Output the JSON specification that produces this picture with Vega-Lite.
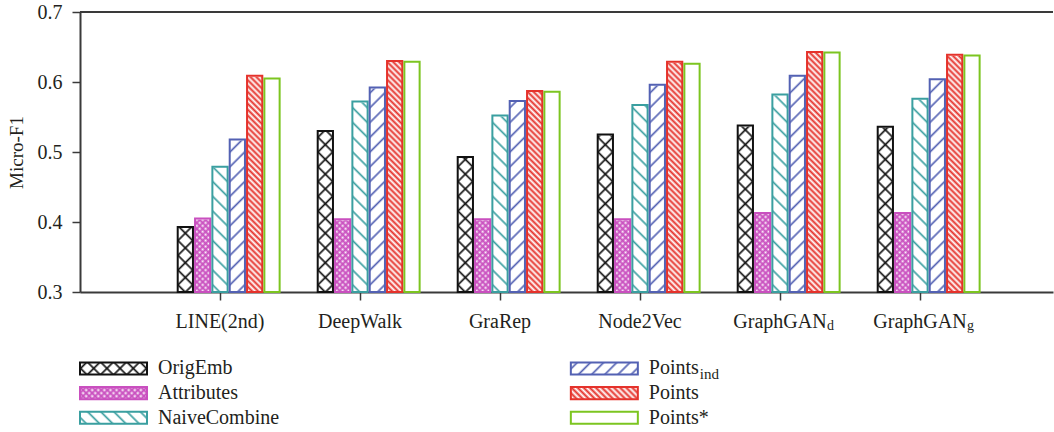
{
  "$schema": "https://vega.github.io/schema/vega-lite/v6.json",
  "padding": {"left": 7, "top": 2, "right": 0, "bottom": 0},
  "background": "white",
  "config": {
    "font": "Liberation Serif",
    "text": {"font": "Liberation Serif"},
    "view": {"stroke": null},
    "axis": {"domainColor": "#3a3a3a", "domainWidth": 2, "tickColor": "#3a3a3a", "tickWidth": 1.5, "tickSize": 8, "labelFont": "Liberation Serif", "labelFontSize": 20, "labelColor": "#231f20", "titleFont": "Liberation Serif", "titleFontSize": 19, "titleFontWeight": "normal", "titleColor": "#231f20", "grid": false},
    "axisX": {"labelPadding": 11, "labelAngle": 0},
    "axisY": {"labelPadding": 10, "titlePadding": 11}
  },
  "spacing": 64,
  "bounds": "flush",
  "vconcat": [
    {
      "width": 973,
      "height": 280,
      "data": {"values": [
        {"method": "LINE(2nd)", "series": "OrigEmb", "value": 0.393},
        {"method": "LINE(2nd)", "series": "Attributes", "value": 0.405},
        {"method": "LINE(2nd)", "series": "NaiveCombine", "value": 0.479},
        {"method": "LINE(2nd)", "series": "Points_ind", "value": 0.518},
        {"method": "LINE(2nd)", "series": "Points", "value": 0.609},
        {"method": "LINE(2nd)", "series": "Points*", "value": 0.605},
        {"method": "DeepWalk", "series": "OrigEmb", "value": 0.530},
        {"method": "DeepWalk", "series": "Attributes", "value": 0.404},
        {"method": "DeepWalk", "series": "NaiveCombine", "value": 0.572},
        {"method": "DeepWalk", "series": "Points_ind", "value": 0.592},
        {"method": "DeepWalk", "series": "Points", "value": 0.630},
        {"method": "DeepWalk", "series": "Points*", "value": 0.629},
        {"method": "GraRep", "series": "OrigEmb", "value": 0.493},
        {"method": "GraRep", "series": "Attributes", "value": 0.404},
        {"method": "GraRep", "series": "NaiveCombine", "value": 0.552},
        {"method": "GraRep", "series": "Points_ind", "value": 0.573},
        {"method": "GraRep", "series": "Points", "value": 0.587},
        {"method": "GraRep", "series": "Points*", "value": 0.586},
        {"method": "Node2Vec", "series": "OrigEmb", "value": 0.525},
        {"method": "Node2Vec", "series": "Attributes", "value": 0.404},
        {"method": "Node2Vec", "series": "NaiveCombine", "value": 0.567},
        {"method": "Node2Vec", "series": "Points_ind", "value": 0.596},
        {"method": "Node2Vec", "series": "Points", "value": 0.629},
        {"method": "Node2Vec", "series": "Points*", "value": 0.626},
        {"method": "GraphGAN_d", "series": "OrigEmb", "value": 0.538},
        {"method": "GraphGAN_d", "series": "Attributes", "value": 0.413},
        {"method": "GraphGAN_d", "series": "NaiveCombine", "value": 0.582},
        {"method": "GraphGAN_d", "series": "Points_ind", "value": 0.609},
        {"method": "GraphGAN_d", "series": "Points", "value": 0.643},
        {"method": "GraphGAN_d", "series": "Points*", "value": 0.642},
        {"method": "GraphGAN_g", "series": "OrigEmb", "value": 0.536},
        {"method": "GraphGAN_g", "series": "Attributes", "value": 0.413},
        {"method": "GraphGAN_g", "series": "NaiveCombine", "value": 0.576},
        {"method": "GraphGAN_g", "series": "Points_ind", "value": 0.604},
        {"method": "GraphGAN_g", "series": "Points", "value": 0.639},
        {"method": "GraphGAN_g", "series": "Points*", "value": 0.638}
      ]},
      "layer": [
        {
          "encoding": {
            "x": {"field": "method", "type": "nominal", "title": null,
                  "scale": {"domain": ["LINE(2nd)", "DeepWalk", "GraRep", "Node2Vec", "GraphGAN_d", "GraphGAN_g"], "paddingInner": 0.13333, "paddingOuter": 0.5417, "align": 0.5231, "round": false},
                  "axis": {"labelExpr": "split(datum.label, '_')[0]"}},
            "xOffset": {"field": "series", "type": "nominal",
                        "scale": {"domain": ["gap", "OrigEmb", "Attributes", "NaiveCombine", "Points_ind", "Points", "Points*"], "paddingInner": 0.12, "paddingOuter": 0.06, "round": false}}
          },
          "layer": [
            {
              "transform": [{"filter": "datum.series === 'OrigEmb'"}],
              "mark": {"type": "bar", "fill": {"gradient": "linear", "x1": 0, "y1": 0, "x2": 0.0573, "y2": 1.0513, "stops": [
                {"offset":0.017,"color":"#11111100"},{"offset":0.025,"color":"#111111"},{"offset":0.033,"color":"#11111100"},
                {"offset":0.067,"color":"#11111100"},{"offset":0.075,"color":"#111111"},{"offset":0.083,"color":"#11111100"},
                {"offset":0.117,"color":"#11111100"},{"offset":0.125,"color":"#111111"},{"offset":0.133,"color":"#11111100"},
                {"offset":0.167,"color":"#11111100"},{"offset":0.175,"color":"#111111"},{"offset":0.183,"color":"#11111100"},
                {"offset":0.217,"color":"#11111100"},{"offset":0.225,"color":"#111111"},{"offset":0.233,"color":"#11111100"},
                {"offset":0.267,"color":"#11111100"},{"offset":0.275,"color":"#111111"},{"offset":0.283,"color":"#11111100"},
                {"offset":0.317,"color":"#11111100"},{"offset":0.325,"color":"#111111"},{"offset":0.333,"color":"#11111100"},
                {"offset":0.367,"color":"#11111100"},{"offset":0.375,"color":"#111111"},{"offset":0.383,"color":"#11111100"},
                {"offset":0.417,"color":"#11111100"},{"offset":0.425,"color":"#111111"},{"offset":0.433,"color":"#11111100"},
                {"offset":0.467,"color":"#11111100"},{"offset":0.475,"color":"#111111"},{"offset":0.483,"color":"#11111100"},
                {"offset":0.517,"color":"#11111100"},{"offset":0.525,"color":"#111111"},{"offset":0.533,"color":"#11111100"},
                {"offset":0.567,"color":"#11111100"},{"offset":0.575,"color":"#111111"},{"offset":0.583,"color":"#11111100"},
                {"offset":0.617,"color":"#11111100"},{"offset":0.625,"color":"#111111"},{"offset":0.633,"color":"#11111100"},
                {"offset":0.667,"color":"#11111100"},{"offset":0.675,"color":"#111111"},{"offset":0.683,"color":"#11111100"},
                {"offset":0.717,"color":"#11111100"},{"offset":0.725,"color":"#111111"},{"offset":0.733,"color":"#11111100"},
                {"offset":0.767,"color":"#11111100"},{"offset":0.775,"color":"#111111"},{"offset":0.783,"color":"#11111100"},
                {"offset":0.817,"color":"#11111100"},{"offset":0.825,"color":"#111111"},{"offset":0.833,"color":"#11111100"},
                {"offset":0.867,"color":"#11111100"},{"offset":0.875,"color":"#111111"},{"offset":0.883,"color":"#11111100"},
                {"offset":0.917,"color":"#11111100"},{"offset":0.925,"color":"#111111"},{"offset":0.933,"color":"#11111100"},
                {"offset":0.967,"color":"#11111100"},{"offset":0.975,"color":"#111111"},{"offset":0.983,"color":"#11111100"}
              ]}},
              "encoding": {"y": {"datum": 0.3, "type": "quantitative", "title": "Micro-F1", "scale": {"domain": [0.3, 0.7], "nice": false, "zero": false}}, "y2": {"datum": 0.7}}
            },
            {
              "transform": [{"filter": "datum.series === 'OrigEmb'"}],
              "mark": {"type": "bar", "fill": {"gradient": "linear", "x1": 0, "y1": 1, "x2": 0.0573, "y2": -0.0513, "stops": [
                {"offset":0.017,"color":"#11111100"},{"offset":0.025,"color":"#111111"},{"offset":0.033,"color":"#11111100"},
                {"offset":0.067,"color":"#11111100"},{"offset":0.075,"color":"#111111"},{"offset":0.083,"color":"#11111100"},
                {"offset":0.117,"color":"#11111100"},{"offset":0.125,"color":"#111111"},{"offset":0.133,"color":"#11111100"},
                {"offset":0.167,"color":"#11111100"},{"offset":0.175,"color":"#111111"},{"offset":0.183,"color":"#11111100"},
                {"offset":0.217,"color":"#11111100"},{"offset":0.225,"color":"#111111"},{"offset":0.233,"color":"#11111100"},
                {"offset":0.267,"color":"#11111100"},{"offset":0.275,"color":"#111111"},{"offset":0.283,"color":"#11111100"},
                {"offset":0.317,"color":"#11111100"},{"offset":0.325,"color":"#111111"},{"offset":0.333,"color":"#11111100"},
                {"offset":0.367,"color":"#11111100"},{"offset":0.375,"color":"#111111"},{"offset":0.383,"color":"#11111100"},
                {"offset":0.417,"color":"#11111100"},{"offset":0.425,"color":"#111111"},{"offset":0.433,"color":"#11111100"},
                {"offset":0.467,"color":"#11111100"},{"offset":0.475,"color":"#111111"},{"offset":0.483,"color":"#11111100"},
                {"offset":0.517,"color":"#11111100"},{"offset":0.525,"color":"#111111"},{"offset":0.533,"color":"#11111100"},
                {"offset":0.567,"color":"#11111100"},{"offset":0.575,"color":"#111111"},{"offset":0.583,"color":"#11111100"},
                {"offset":0.617,"color":"#11111100"},{"offset":0.625,"color":"#111111"},{"offset":0.633,"color":"#11111100"},
                {"offset":0.667,"color":"#11111100"},{"offset":0.675,"color":"#111111"},{"offset":0.683,"color":"#11111100"},
                {"offset":0.717,"color":"#11111100"},{"offset":0.725,"color":"#111111"},{"offset":0.733,"color":"#11111100"},
                {"offset":0.767,"color":"#11111100"},{"offset":0.775,"color":"#111111"},{"offset":0.783,"color":"#11111100"},
                {"offset":0.817,"color":"#11111100"},{"offset":0.825,"color":"#111111"},{"offset":0.833,"color":"#11111100"},
                {"offset":0.867,"color":"#11111100"},{"offset":0.875,"color":"#111111"},{"offset":0.883,"color":"#11111100"},
                {"offset":0.917,"color":"#11111100"},{"offset":0.925,"color":"#111111"},{"offset":0.933,"color":"#11111100"},
                {"offset":0.967,"color":"#11111100"},{"offset":0.975,"color":"#111111"},{"offset":0.983,"color":"#11111100"}
              ]}},
              "encoding": {"y": {"datum": 0.3, "type": "quantitative", "title": "Micro-F1", "scale": {"domain": [0.3, 0.7], "nice": false, "zero": false}}, "y2": {"datum": 0.7}}
            },
            {
              "transform": [{"filter": "datum.series === 'Attributes'"}],
              "mark": {"type": "bar", "fill": {"gradient": "linear", "x1": 0, "y1": 0, "x2": 0.0573, "y2": 1.0513, "stops": [
                {"offset":0,"color":"#c94fbf"},{"offset":0.01,"color":"#c94fbf00"},{"offset":0.02,"color":"#c94fbf"},{"offset":0.03,"color":"#c94fbf00"},{"offset":0.04,"color":"#c94fbf"},{"offset":0.05,"color":"#c94fbf00"},{"offset":0.06,"color":"#c94fbf"},{"offset":0.07,"color":"#c94fbf00"},{"offset":0.08,"color":"#c94fbf"},{"offset":0.09,"color":"#c94fbf00"},
                {"offset":0.1,"color":"#c94fbf"},{"offset":0.11,"color":"#c94fbf00"},{"offset":0.12,"color":"#c94fbf"},{"offset":0.13,"color":"#c94fbf00"},{"offset":0.14,"color":"#c94fbf"},{"offset":0.15,"color":"#c94fbf00"},{"offset":0.16,"color":"#c94fbf"},{"offset":0.17,"color":"#c94fbf00"},{"offset":0.18,"color":"#c94fbf"},{"offset":0.19,"color":"#c94fbf00"},
                {"offset":0.2,"color":"#c94fbf"},{"offset":0.21,"color":"#c94fbf00"},{"offset":0.22,"color":"#c94fbf"},{"offset":0.23,"color":"#c94fbf00"},{"offset":0.24,"color":"#c94fbf"},{"offset":0.25,"color":"#c94fbf00"},{"offset":0.26,"color":"#c94fbf"},{"offset":0.27,"color":"#c94fbf00"},{"offset":0.28,"color":"#c94fbf"},{"offset":0.29,"color":"#c94fbf00"},
                {"offset":0.3,"color":"#c94fbf"},{"offset":0.31,"color":"#c94fbf00"},{"offset":0.32,"color":"#c94fbf"},{"offset":0.33,"color":"#c94fbf00"},{"offset":0.34,"color":"#c94fbf"},{"offset":0.35,"color":"#c94fbf00"},{"offset":0.36,"color":"#c94fbf"},{"offset":0.37,"color":"#c94fbf00"},{"offset":0.38,"color":"#c94fbf"},{"offset":0.39,"color":"#c94fbf00"},
                {"offset":0.4,"color":"#c94fbf"},{"offset":0.41,"color":"#c94fbf00"},{"offset":0.42,"color":"#c94fbf"},{"offset":0.43,"color":"#c94fbf00"},{"offset":0.44,"color":"#c94fbf"},{"offset":0.45,"color":"#c94fbf00"},{"offset":0.46,"color":"#c94fbf"},{"offset":0.47,"color":"#c94fbf00"},{"offset":0.48,"color":"#c94fbf"},{"offset":0.49,"color":"#c94fbf00"},
                {"offset":0.5,"color":"#c94fbf"},{"offset":0.51,"color":"#c94fbf00"},{"offset":0.52,"color":"#c94fbf"},{"offset":0.53,"color":"#c94fbf00"},{"offset":0.54,"color":"#c94fbf"},{"offset":0.55,"color":"#c94fbf00"},{"offset":0.56,"color":"#c94fbf"},{"offset":0.57,"color":"#c94fbf00"},{"offset":0.58,"color":"#c94fbf"},{"offset":0.59,"color":"#c94fbf00"},
                {"offset":0.6,"color":"#c94fbf"},{"offset":0.61,"color":"#c94fbf00"},{"offset":0.62,"color":"#c94fbf"},{"offset":0.63,"color":"#c94fbf00"},{"offset":0.64,"color":"#c94fbf"},{"offset":0.65,"color":"#c94fbf00"},{"offset":0.66,"color":"#c94fbf"},{"offset":0.67,"color":"#c94fbf00"},{"offset":0.68,"color":"#c94fbf"},{"offset":0.69,"color":"#c94fbf00"},
                {"offset":0.7,"color":"#c94fbf"},{"offset":0.71,"color":"#c94fbf00"},{"offset":0.72,"color":"#c94fbf"},{"offset":0.73,"color":"#c94fbf00"},{"offset":0.74,"color":"#c94fbf"},{"offset":0.75,"color":"#c94fbf00"},{"offset":0.76,"color":"#c94fbf"},{"offset":0.77,"color":"#c94fbf00"},{"offset":0.78,"color":"#c94fbf"},{"offset":0.79,"color":"#c94fbf00"},
                {"offset":0.8,"color":"#c94fbf"},{"offset":0.81,"color":"#c94fbf00"},{"offset":0.82,"color":"#c94fbf"},{"offset":0.83,"color":"#c94fbf00"},{"offset":0.84,"color":"#c94fbf"},{"offset":0.85,"color":"#c94fbf00"},{"offset":0.86,"color":"#c94fbf"},{"offset":0.87,"color":"#c94fbf00"},{"offset":0.88,"color":"#c94fbf"},{"offset":0.89,"color":"#c94fbf00"},
                {"offset":0.9,"color":"#c94fbf"},{"offset":0.91,"color":"#c94fbf00"},{"offset":0.92,"color":"#c94fbf"},{"offset":0.93,"color":"#c94fbf00"},{"offset":0.94,"color":"#c94fbf"},{"offset":0.95,"color":"#c94fbf00"},{"offset":0.96,"color":"#c94fbf"},{"offset":0.97,"color":"#c94fbf00"},{"offset":0.98,"color":"#c94fbf"},{"offset":0.99,"color":"#c94fbf00"},
                {"offset":1,"color":"#c94fbf"}
              ]}},
              "encoding": {"y": {"datum": 0.3, "type": "quantitative", "title": "Micro-F1", "scale": {"domain": [0.3, 0.7], "nice": false, "zero": false}}, "y2": {"datum": 0.7}}
            },
            {
              "transform": [{"filter": "datum.series === 'Attributes'"}],
              "mark": {"type": "bar", "fill": {"gradient": "linear", "x1": 0, "y1": 1, "x2": 0.0573, "y2": -0.0513, "stops": [
                {"offset":0,"color":"#c94fbf"},{"offset":0.01,"color":"#c94fbf00"},{"offset":0.02,"color":"#c94fbf"},{"offset":0.03,"color":"#c94fbf00"},{"offset":0.04,"color":"#c94fbf"},{"offset":0.05,"color":"#c94fbf00"},{"offset":0.06,"color":"#c94fbf"},{"offset":0.07,"color":"#c94fbf00"},{"offset":0.08,"color":"#c94fbf"},{"offset":0.09,"color":"#c94fbf00"},
                {"offset":0.1,"color":"#c94fbf"},{"offset":0.11,"color":"#c94fbf00"},{"offset":0.12,"color":"#c94fbf"},{"offset":0.13,"color":"#c94fbf00"},{"offset":0.14,"color":"#c94fbf"},{"offset":0.15,"color":"#c94fbf00"},{"offset":0.16,"color":"#c94fbf"},{"offset":0.17,"color":"#c94fbf00"},{"offset":0.18,"color":"#c94fbf"},{"offset":0.19,"color":"#c94fbf00"},
                {"offset":0.2,"color":"#c94fbf"},{"offset":0.21,"color":"#c94fbf00"},{"offset":0.22,"color":"#c94fbf"},{"offset":0.23,"color":"#c94fbf00"},{"offset":0.24,"color":"#c94fbf"},{"offset":0.25,"color":"#c94fbf00"},{"offset":0.26,"color":"#c94fbf"},{"offset":0.27,"color":"#c94fbf00"},{"offset":0.28,"color":"#c94fbf"},{"offset":0.29,"color":"#c94fbf00"},
                {"offset":0.3,"color":"#c94fbf"},{"offset":0.31,"color":"#c94fbf00"},{"offset":0.32,"color":"#c94fbf"},{"offset":0.33,"color":"#c94fbf00"},{"offset":0.34,"color":"#c94fbf"},{"offset":0.35,"color":"#c94fbf00"},{"offset":0.36,"color":"#c94fbf"},{"offset":0.37,"color":"#c94fbf00"},{"offset":0.38,"color":"#c94fbf"},{"offset":0.39,"color":"#c94fbf00"},
                {"offset":0.4,"color":"#c94fbf"},{"offset":0.41,"color":"#c94fbf00"},{"offset":0.42,"color":"#c94fbf"},{"offset":0.43,"color":"#c94fbf00"},{"offset":0.44,"color":"#c94fbf"},{"offset":0.45,"color":"#c94fbf00"},{"offset":0.46,"color":"#c94fbf"},{"offset":0.47,"color":"#c94fbf00"},{"offset":0.48,"color":"#c94fbf"},{"offset":0.49,"color":"#c94fbf00"},
                {"offset":0.5,"color":"#c94fbf"},{"offset":0.51,"color":"#c94fbf00"},{"offset":0.52,"color":"#c94fbf"},{"offset":0.53,"color":"#c94fbf00"},{"offset":0.54,"color":"#c94fbf"},{"offset":0.55,"color":"#c94fbf00"},{"offset":0.56,"color":"#c94fbf"},{"offset":0.57,"color":"#c94fbf00"},{"offset":0.58,"color":"#c94fbf"},{"offset":0.59,"color":"#c94fbf00"},
                {"offset":0.6,"color":"#c94fbf"},{"offset":0.61,"color":"#c94fbf00"},{"offset":0.62,"color":"#c94fbf"},{"offset":0.63,"color":"#c94fbf00"},{"offset":0.64,"color":"#c94fbf"},{"offset":0.65,"color":"#c94fbf00"},{"offset":0.66,"color":"#c94fbf"},{"offset":0.67,"color":"#c94fbf00"},{"offset":0.68,"color":"#c94fbf"},{"offset":0.69,"color":"#c94fbf00"},
                {"offset":0.7,"color":"#c94fbf"},{"offset":0.71,"color":"#c94fbf00"},{"offset":0.72,"color":"#c94fbf"},{"offset":0.73,"color":"#c94fbf00"},{"offset":0.74,"color":"#c94fbf"},{"offset":0.75,"color":"#c94fbf00"},{"offset":0.76,"color":"#c94fbf"},{"offset":0.77,"color":"#c94fbf00"},{"offset":0.78,"color":"#c94fbf"},{"offset":0.79,"color":"#c94fbf00"},
                {"offset":0.8,"color":"#c94fbf"},{"offset":0.81,"color":"#c94fbf00"},{"offset":0.82,"color":"#c94fbf"},{"offset":0.83,"color":"#c94fbf00"},{"offset":0.84,"color":"#c94fbf"},{"offset":0.85,"color":"#c94fbf00"},{"offset":0.86,"color":"#c94fbf"},{"offset":0.87,"color":"#c94fbf00"},{"offset":0.88,"color":"#c94fbf"},{"offset":0.89,"color":"#c94fbf00"},
                {"offset":0.9,"color":"#c94fbf"},{"offset":0.91,"color":"#c94fbf00"},{"offset":0.92,"color":"#c94fbf"},{"offset":0.93,"color":"#c94fbf00"},{"offset":0.94,"color":"#c94fbf"},{"offset":0.95,"color":"#c94fbf00"},{"offset":0.96,"color":"#c94fbf"},{"offset":0.97,"color":"#c94fbf00"},{"offset":0.98,"color":"#c94fbf"},{"offset":0.99,"color":"#c94fbf00"},
                {"offset":1,"color":"#c94fbf"}
              ]}},
              "encoding": {"y": {"datum": 0.3, "type": "quantitative", "title": "Micro-F1", "scale": {"domain": [0.3, 0.7], "nice": false, "zero": false}}, "y2": {"datum": 0.7}}
            },
            {
              "transform": [{"filter": "datum.series === 'NaiveCombine'"}],
              "mark": {"type": "bar", "fill": {"gradient": "linear", "x1": 0, "y1": 1, "x2": 0.0573, "y2": -0.0513, "stops": [
                {"offset":0.017,"color":"#3a9fa000"},{"offset":0.025,"color":"#3a9fa0"},{"offset":0.033,"color":"#3a9fa000"},
                {"offset":0.067,"color":"#3a9fa000"},{"offset":0.075,"color":"#3a9fa0"},{"offset":0.083,"color":"#3a9fa000"},
                {"offset":0.117,"color":"#3a9fa000"},{"offset":0.125,"color":"#3a9fa0"},{"offset":0.133,"color":"#3a9fa000"},
                {"offset":0.167,"color":"#3a9fa000"},{"offset":0.175,"color":"#3a9fa0"},{"offset":0.183,"color":"#3a9fa000"},
                {"offset":0.217,"color":"#3a9fa000"},{"offset":0.225,"color":"#3a9fa0"},{"offset":0.233,"color":"#3a9fa000"},
                {"offset":0.267,"color":"#3a9fa000"},{"offset":0.275,"color":"#3a9fa0"},{"offset":0.283,"color":"#3a9fa000"},
                {"offset":0.317,"color":"#3a9fa000"},{"offset":0.325,"color":"#3a9fa0"},{"offset":0.333,"color":"#3a9fa000"},
                {"offset":0.367,"color":"#3a9fa000"},{"offset":0.375,"color":"#3a9fa0"},{"offset":0.383,"color":"#3a9fa000"},
                {"offset":0.417,"color":"#3a9fa000"},{"offset":0.425,"color":"#3a9fa0"},{"offset":0.433,"color":"#3a9fa000"},
                {"offset":0.467,"color":"#3a9fa000"},{"offset":0.475,"color":"#3a9fa0"},{"offset":0.483,"color":"#3a9fa000"},
                {"offset":0.517,"color":"#3a9fa000"},{"offset":0.525,"color":"#3a9fa0"},{"offset":0.533,"color":"#3a9fa000"},
                {"offset":0.567,"color":"#3a9fa000"},{"offset":0.575,"color":"#3a9fa0"},{"offset":0.583,"color":"#3a9fa000"},
                {"offset":0.617,"color":"#3a9fa000"},{"offset":0.625,"color":"#3a9fa0"},{"offset":0.633,"color":"#3a9fa000"},
                {"offset":0.667,"color":"#3a9fa000"},{"offset":0.675,"color":"#3a9fa0"},{"offset":0.683,"color":"#3a9fa000"},
                {"offset":0.717,"color":"#3a9fa000"},{"offset":0.725,"color":"#3a9fa0"},{"offset":0.733,"color":"#3a9fa000"},
                {"offset":0.767,"color":"#3a9fa000"},{"offset":0.775,"color":"#3a9fa0"},{"offset":0.783,"color":"#3a9fa000"},
                {"offset":0.817,"color":"#3a9fa000"},{"offset":0.825,"color":"#3a9fa0"},{"offset":0.833,"color":"#3a9fa000"},
                {"offset":0.867,"color":"#3a9fa000"},{"offset":0.875,"color":"#3a9fa0"},{"offset":0.883,"color":"#3a9fa000"},
                {"offset":0.917,"color":"#3a9fa000"},{"offset":0.925,"color":"#3a9fa0"},{"offset":0.933,"color":"#3a9fa000"},
                {"offset":0.967,"color":"#3a9fa000"},{"offset":0.975,"color":"#3a9fa0"},{"offset":0.983,"color":"#3a9fa000"}
              ]}},
              "encoding": {"y": {"datum": 0.3, "type": "quantitative", "title": "Micro-F1", "scale": {"domain": [0.3, 0.7], "nice": false, "zero": false}}, "y2": {"datum": 0.7}}
            },
            {
              "transform": [{"filter": "datum.series === 'Points_ind'"}],
              "mark": {"type": "bar", "fill": {"gradient": "linear", "x1": 0, "y1": 0, "x2": 0.0573, "y2": 1.0513, "stops": [
                {"offset":0.017,"color":"#5361b300"},{"offset":0.025,"color":"#5361b3"},{"offset":0.033,"color":"#5361b300"},
                {"offset":0.067,"color":"#5361b300"},{"offset":0.075,"color":"#5361b3"},{"offset":0.083,"color":"#5361b300"},
                {"offset":0.117,"color":"#5361b300"},{"offset":0.125,"color":"#5361b3"},{"offset":0.133,"color":"#5361b300"},
                {"offset":0.167,"color":"#5361b300"},{"offset":0.175,"color":"#5361b3"},{"offset":0.183,"color":"#5361b300"},
                {"offset":0.217,"color":"#5361b300"},{"offset":0.225,"color":"#5361b3"},{"offset":0.233,"color":"#5361b300"},
                {"offset":0.267,"color":"#5361b300"},{"offset":0.275,"color":"#5361b3"},{"offset":0.283,"color":"#5361b300"},
                {"offset":0.317,"color":"#5361b300"},{"offset":0.325,"color":"#5361b3"},{"offset":0.333,"color":"#5361b300"},
                {"offset":0.367,"color":"#5361b300"},{"offset":0.375,"color":"#5361b3"},{"offset":0.383,"color":"#5361b300"},
                {"offset":0.417,"color":"#5361b300"},{"offset":0.425,"color":"#5361b3"},{"offset":0.433,"color":"#5361b300"},
                {"offset":0.467,"color":"#5361b300"},{"offset":0.475,"color":"#5361b3"},{"offset":0.483,"color":"#5361b300"},
                {"offset":0.517,"color":"#5361b300"},{"offset":0.525,"color":"#5361b3"},{"offset":0.533,"color":"#5361b300"},
                {"offset":0.567,"color":"#5361b300"},{"offset":0.575,"color":"#5361b3"},{"offset":0.583,"color":"#5361b300"},
                {"offset":0.617,"color":"#5361b300"},{"offset":0.625,"color":"#5361b3"},{"offset":0.633,"color":"#5361b300"},
                {"offset":0.667,"color":"#5361b300"},{"offset":0.675,"color":"#5361b3"},{"offset":0.683,"color":"#5361b300"},
                {"offset":0.717,"color":"#5361b300"},{"offset":0.725,"color":"#5361b3"},{"offset":0.733,"color":"#5361b300"},
                {"offset":0.767,"color":"#5361b300"},{"offset":0.775,"color":"#5361b3"},{"offset":0.783,"color":"#5361b300"},
                {"offset":0.817,"color":"#5361b300"},{"offset":0.825,"color":"#5361b3"},{"offset":0.833,"color":"#5361b300"},
                {"offset":0.867,"color":"#5361b300"},{"offset":0.875,"color":"#5361b3"},{"offset":0.883,"color":"#5361b300"},
                {"offset":0.917,"color":"#5361b300"},{"offset":0.925,"color":"#5361b3"},{"offset":0.933,"color":"#5361b300"},
                {"offset":0.967,"color":"#5361b300"},{"offset":0.975,"color":"#5361b3"},{"offset":0.983,"color":"#5361b300"}
              ]}},
              "encoding": {"y": {"datum": 0.3, "type": "quantitative", "title": "Micro-F1", "scale": {"domain": [0.3, 0.7], "nice": false, "zero": false}}, "y2": {"datum": 0.7}}
            },
            {
              "transform": [{"filter": "datum.series === 'Points'"}],
              "mark": {"type": "bar", "fill": {"gradient": "linear", "x1": 0, "y1": 1, "x2": 0.0573, "y2": -0.0513, "stops": [
                {"offset":0,"color":"#e5322b"},{"offset":0.01,"color":"#e5322b00"},{"offset":0.02,"color":"#e5322b"},{"offset":0.03,"color":"#e5322b00"},{"offset":0.04,"color":"#e5322b"},{"offset":0.05,"color":"#e5322b00"},{"offset":0.06,"color":"#e5322b"},{"offset":0.07,"color":"#e5322b00"},{"offset":0.08,"color":"#e5322b"},{"offset":0.09,"color":"#e5322b00"},
                {"offset":0.1,"color":"#e5322b"},{"offset":0.11,"color":"#e5322b00"},{"offset":0.12,"color":"#e5322b"},{"offset":0.13,"color":"#e5322b00"},{"offset":0.14,"color":"#e5322b"},{"offset":0.15,"color":"#e5322b00"},{"offset":0.16,"color":"#e5322b"},{"offset":0.17,"color":"#e5322b00"},{"offset":0.18,"color":"#e5322b"},{"offset":0.19,"color":"#e5322b00"},
                {"offset":0.2,"color":"#e5322b"},{"offset":0.21,"color":"#e5322b00"},{"offset":0.22,"color":"#e5322b"},{"offset":0.23,"color":"#e5322b00"},{"offset":0.24,"color":"#e5322b"},{"offset":0.25,"color":"#e5322b00"},{"offset":0.26,"color":"#e5322b"},{"offset":0.27,"color":"#e5322b00"},{"offset":0.28,"color":"#e5322b"},{"offset":0.29,"color":"#e5322b00"},
                {"offset":0.3,"color":"#e5322b"},{"offset":0.31,"color":"#e5322b00"},{"offset":0.32,"color":"#e5322b"},{"offset":0.33,"color":"#e5322b00"},{"offset":0.34,"color":"#e5322b"},{"offset":0.35,"color":"#e5322b00"},{"offset":0.36,"color":"#e5322b"},{"offset":0.37,"color":"#e5322b00"},{"offset":0.38,"color":"#e5322b"},{"offset":0.39,"color":"#e5322b00"},
                {"offset":0.4,"color":"#e5322b"},{"offset":0.41,"color":"#e5322b00"},{"offset":0.42,"color":"#e5322b"},{"offset":0.43,"color":"#e5322b00"},{"offset":0.44,"color":"#e5322b"},{"offset":0.45,"color":"#e5322b00"},{"offset":0.46,"color":"#e5322b"},{"offset":0.47,"color":"#e5322b00"},{"offset":0.48,"color":"#e5322b"},{"offset":0.49,"color":"#e5322b00"},
                {"offset":0.5,"color":"#e5322b"},{"offset":0.51,"color":"#e5322b00"},{"offset":0.52,"color":"#e5322b"},{"offset":0.53,"color":"#e5322b00"},{"offset":0.54,"color":"#e5322b"},{"offset":0.55,"color":"#e5322b00"},{"offset":0.56,"color":"#e5322b"},{"offset":0.57,"color":"#e5322b00"},{"offset":0.58,"color":"#e5322b"},{"offset":0.59,"color":"#e5322b00"},
                {"offset":0.6,"color":"#e5322b"},{"offset":0.61,"color":"#e5322b00"},{"offset":0.62,"color":"#e5322b"},{"offset":0.63,"color":"#e5322b00"},{"offset":0.64,"color":"#e5322b"},{"offset":0.65,"color":"#e5322b00"},{"offset":0.66,"color":"#e5322b"},{"offset":0.67,"color":"#e5322b00"},{"offset":0.68,"color":"#e5322b"},{"offset":0.69,"color":"#e5322b00"},
                {"offset":0.7,"color":"#e5322b"},{"offset":0.71,"color":"#e5322b00"},{"offset":0.72,"color":"#e5322b"},{"offset":0.73,"color":"#e5322b00"},{"offset":0.74,"color":"#e5322b"},{"offset":0.75,"color":"#e5322b00"},{"offset":0.76,"color":"#e5322b"},{"offset":0.77,"color":"#e5322b00"},{"offset":0.78,"color":"#e5322b"},{"offset":0.79,"color":"#e5322b00"},
                {"offset":0.8,"color":"#e5322b"},{"offset":0.81,"color":"#e5322b00"},{"offset":0.82,"color":"#e5322b"},{"offset":0.83,"color":"#e5322b00"},{"offset":0.84,"color":"#e5322b"},{"offset":0.85,"color":"#e5322b00"},{"offset":0.86,"color":"#e5322b"},{"offset":0.87,"color":"#e5322b00"},{"offset":0.88,"color":"#e5322b"},{"offset":0.89,"color":"#e5322b00"},
                {"offset":0.9,"color":"#e5322b"},{"offset":0.91,"color":"#e5322b00"},{"offset":0.92,"color":"#e5322b"},{"offset":0.93,"color":"#e5322b00"},{"offset":0.94,"color":"#e5322b"},{"offset":0.95,"color":"#e5322b00"},{"offset":0.96,"color":"#e5322b"},{"offset":0.97,"color":"#e5322b00"},{"offset":0.98,"color":"#e5322b"},{"offset":0.99,"color":"#e5322b00"},
                {"offset":1,"color":"#e5322b"}
              ]}},
              "encoding": {"y": {"datum": 0.3, "type": "quantitative", "title": "Micro-F1", "scale": {"domain": [0.3, 0.7], "nice": false, "zero": false}}, "y2": {"datum": 0.7}}
            },
            {
              "mark": {"type": "bar", "fill": "white", "stroke": "white", "strokeWidth": 2},
              "encoding": {"y": {"field": "value", "type": "quantitative", "title": "Micro-F1", "scale": {"domain": [0.3, 0.7], "nice": false, "zero": false}}, "y2": {"datum": 0.7}}
            },
            {
              "mark": {"type": "bar", "fillOpacity": 0, "strokeWidth": 2},
              "encoding": {
                "y": {"field": "value", "type": "quantitative", "title": "Micro-F1", "scale": {"domain": [0.3, 0.7], "nice": false, "zero": false}, "axis": {"values": [0.3, 0.4, 0.5, 0.6, 0.7], "format": ".1f"}},
                "y2": {"datum": 0.3},
                "stroke": {"field": "series", "type": "nominal", "legend": null,
                           "scale": {"domain": ["OrigEmb", "Attributes", "NaiveCombine", "Points_ind", "Points", "Points*"], "range": ["#111111", "#c94fbf", "#3a9fa0", "#5361b3", "#e5322b", "#7cc520"]}}
              }
            }
          ]
        },
        {
          "mark": {"type": "rule", "color": "#3a3a3a", "strokeWidth": 2},
          "encoding": {"y": {"datum": 0.7, "type": "quantitative", "title": "Micro-F1"}}
        },
        {
          "data": {"values": [{"method": "GraphGAN_d", "sub": "d"}, {"method": "GraphGAN_g", "sub": "g"}]},
          "mark": {"type": "text", "font": "Liberation Serif", "align": "left", "baseline": "top", "dx": 47, "dy": 27, "fontSize": 14, "color": "#231f20"},
          "encoding": {
            "x": {"field": "method", "type": "nominal", "title": null},
            "y": {"datum": 0.3, "type": "quantitative", "title": "Micro-F1"},
            "text": {"field": "sub"}
          }
        }
      ]
    },
    {
      "width": 973,
      "height": 74.25,
      "data": {"values": [
        {"series": "OrigEmb", "label": "OrigEmb", "sub": "", "col": 0, "row": 0},
        {"series": "Attributes", "label": "Attributes", "sub": "", "col": 0, "row": 1},
        {"series": "NaiveCombine", "label": "NaiveCombine", "sub": "", "col": 0, "row": 2},
        {"series": "Points_ind", "label": "Points", "sub": "ind", "col": 1, "row": 0},
        {"series": "Points", "label": "Points", "sub": "", "col": 1, "row": 1},
        {"series": "Points*", "label": "Points*", "sub": "", "col": 1, "row": 2}
      ]},
      "encoding": {
        "x": {"field": "col", "type": "ordinal", "axis": null, "scale": {"domain": [0, 1], "paddingInner": 0.8635, "paddingOuter": 0.4229, "align": 0, "round": false}},
        "y": {"field": "row", "type": "ordinal", "axis": null, "scale": {"domain": [0, 1, 2], "paddingInner": 0.515, "paddingOuter": 0.2576, "round": false}}
      },
      "layer": [
        {
          "transform": [{"filter": "datum.series === 'OrigEmb'"}],
          "mark": {"type": "rect", "fill": {"gradient": "linear", "x1": 0, "y1": 0, "x2": 1.1425, "y2": 0.2046, "stops": [
            {"offset":0.053,"color":"#11111100"},{"offset":0.083,"color":"#111111"},{"offset":0.113,"color":"#11111100"},
            {"offset":0.22,"color":"#11111100"},{"offset":0.25,"color":"#111111"},{"offset":0.28,"color":"#11111100"},
            {"offset":0.387,"color":"#11111100"},{"offset":0.417,"color":"#111111"},{"offset":0.447,"color":"#11111100"},
            {"offset":0.553,"color":"#11111100"},{"offset":0.583,"color":"#111111"},{"offset":0.613,"color":"#11111100"},
            {"offset":0.72,"color":"#11111100"},{"offset":0.75,"color":"#111111"},{"offset":0.78,"color":"#11111100"},
            {"offset":0.887,"color":"#11111100"},{"offset":0.917,"color":"#111111"},{"offset":0.947,"color":"#11111100"}
          ]}}
        },
        {
          "transform": [{"filter": "datum.series === 'OrigEmb'"}],
          "mark": {"type": "rect", "fill": {"gradient": "linear", "x1": 0, "y1": 1, "x2": 1.1425, "y2": 0.7954, "stops": [
            {"offset":0.053,"color":"#11111100"},{"offset":0.083,"color":"#111111"},{"offset":0.113,"color":"#11111100"},
            {"offset":0.22,"color":"#11111100"},{"offset":0.25,"color":"#111111"},{"offset":0.28,"color":"#11111100"},
            {"offset":0.387,"color":"#11111100"},{"offset":0.417,"color":"#111111"},{"offset":0.447,"color":"#11111100"},
            {"offset":0.553,"color":"#11111100"},{"offset":0.583,"color":"#111111"},{"offset":0.613,"color":"#11111100"},
            {"offset":0.72,"color":"#11111100"},{"offset":0.75,"color":"#111111"},{"offset":0.78,"color":"#11111100"},
            {"offset":0.887,"color":"#11111100"},{"offset":0.917,"color":"#111111"},{"offset":0.947,"color":"#11111100"}
          ]}}
        },
        {
          "transform": [{"filter": "datum.series === 'Attributes'"}],
          "mark": {"type": "rect", "fill": {"gradient": "linear", "x1": 0, "y1": 0, "x2": 1.1425, "y2": 0.2046, "stops": [
            {"offset":0,"color":"#c94fbf"},{"offset":0.0385,"color":"#c94fbf00"},{"offset":0.0769,"color":"#c94fbf"},{"offset":0.1154,"color":"#c94fbf00"},{"offset":0.1538,"color":"#c94fbf"},{"offset":0.1923,"color":"#c94fbf00"},{"offset":0.2308,"color":"#c94fbf"},{"offset":0.2692,"color":"#c94fbf00"},{"offset":0.3077,"color":"#c94fbf"},{"offset":0.3462,"color":"#c94fbf00"},{"offset":0.3846,"color":"#c94fbf"},{"offset":0.4231,"color":"#c94fbf00"},{"offset":0.4615,"color":"#c94fbf"},{"offset":0.5,"color":"#c94fbf00"},
            {"offset":0.5385,"color":"#c94fbf"},{"offset":0.5769,"color":"#c94fbf00"},{"offset":0.6154,"color":"#c94fbf"},{"offset":0.6538,"color":"#c94fbf00"},{"offset":0.6923,"color":"#c94fbf"},{"offset":0.7308,"color":"#c94fbf00"},{"offset":0.7692,"color":"#c94fbf"},{"offset":0.8077,"color":"#c94fbf00"},{"offset":0.8462,"color":"#c94fbf"},{"offset":0.8846,"color":"#c94fbf00"},{"offset":0.9231,"color":"#c94fbf"},{"offset":0.9615,"color":"#c94fbf00"},{"offset":1,"color":"#c94fbf"}
          ]}}
        },
        {
          "transform": [{"filter": "datum.series === 'Attributes'"}],
          "mark": {"type": "rect", "fill": {"gradient": "linear", "x1": 0, "y1": 1, "x2": 1.1425, "y2": 0.7954, "stops": [
            {"offset":0,"color":"#c94fbf"},{"offset":0.0385,"color":"#c94fbf00"},{"offset":0.0769,"color":"#c94fbf"},{"offset":0.1154,"color":"#c94fbf00"},{"offset":0.1538,"color":"#c94fbf"},{"offset":0.1923,"color":"#c94fbf00"},{"offset":0.2308,"color":"#c94fbf"},{"offset":0.2692,"color":"#c94fbf00"},{"offset":0.3077,"color":"#c94fbf"},{"offset":0.3462,"color":"#c94fbf00"},{"offset":0.3846,"color":"#c94fbf"},{"offset":0.4231,"color":"#c94fbf00"},{"offset":0.4615,"color":"#c94fbf"},{"offset":0.5,"color":"#c94fbf00"},
            {"offset":0.5385,"color":"#c94fbf"},{"offset":0.5769,"color":"#c94fbf00"},{"offset":0.6154,"color":"#c94fbf"},{"offset":0.6538,"color":"#c94fbf00"},{"offset":0.6923,"color":"#c94fbf"},{"offset":0.7308,"color":"#c94fbf00"},{"offset":0.7692,"color":"#c94fbf"},{"offset":0.8077,"color":"#c94fbf00"},{"offset":0.8462,"color":"#c94fbf"},{"offset":0.8846,"color":"#c94fbf00"},{"offset":0.9231,"color":"#c94fbf"},{"offset":0.9615,"color":"#c94fbf00"},{"offset":1,"color":"#c94fbf"}
          ]}}
        },
        {
          "transform": [{"filter": "datum.series === 'NaiveCombine'"}],
          "mark": {"type": "rect", "fill": {"gradient": "linear", "x1": 0, "y1": 1, "x2": 1.1425, "y2": 0.7954, "stops": [
            {"offset":0.053,"color":"#3a9fa000"},{"offset":0.083,"color":"#3a9fa0"},{"offset":0.113,"color":"#3a9fa000"},
            {"offset":0.22,"color":"#3a9fa000"},{"offset":0.25,"color":"#3a9fa0"},{"offset":0.28,"color":"#3a9fa000"},
            {"offset":0.387,"color":"#3a9fa000"},{"offset":0.417,"color":"#3a9fa0"},{"offset":0.447,"color":"#3a9fa000"},
            {"offset":0.553,"color":"#3a9fa000"},{"offset":0.583,"color":"#3a9fa0"},{"offset":0.613,"color":"#3a9fa000"},
            {"offset":0.72,"color":"#3a9fa000"},{"offset":0.75,"color":"#3a9fa0"},{"offset":0.78,"color":"#3a9fa000"},
            {"offset":0.887,"color":"#3a9fa000"},{"offset":0.917,"color":"#3a9fa0"},{"offset":0.947,"color":"#3a9fa000"}
          ]}}
        },
        {
          "transform": [{"filter": "datum.series === 'Points_ind'"}],
          "mark": {"type": "rect", "fill": {"gradient": "linear", "x1": 0, "y1": 0, "x2": 1.1425, "y2": 0.2046, "stops": [
            {"offset":0.053,"color":"#5361b300"},{"offset":0.083,"color":"#5361b3"},{"offset":0.113,"color":"#5361b300"},
            {"offset":0.22,"color":"#5361b300"},{"offset":0.25,"color":"#5361b3"},{"offset":0.28,"color":"#5361b300"},
            {"offset":0.387,"color":"#5361b300"},{"offset":0.417,"color":"#5361b3"},{"offset":0.447,"color":"#5361b300"},
            {"offset":0.553,"color":"#5361b300"},{"offset":0.583,"color":"#5361b3"},{"offset":0.613,"color":"#5361b300"},
            {"offset":0.72,"color":"#5361b300"},{"offset":0.75,"color":"#5361b3"},{"offset":0.78,"color":"#5361b300"},
            {"offset":0.887,"color":"#5361b300"},{"offset":0.917,"color":"#5361b3"},{"offset":0.947,"color":"#5361b300"}
          ]}}
        },
        {
          "transform": [{"filter": "datum.series === 'Points'"}],
          "mark": {"type": "rect", "fill": {"gradient": "linear", "x1": 0, "y1": 1, "x2": 1.1425, "y2": 0.7954, "stops": [
            {"offset":0,"color":"#e5322b"},{"offset":0.0385,"color":"#e5322b00"},{"offset":0.0769,"color":"#e5322b"},{"offset":0.1154,"color":"#e5322b00"},{"offset":0.1538,"color":"#e5322b"},{"offset":0.1923,"color":"#e5322b00"},{"offset":0.2308,"color":"#e5322b"},{"offset":0.2692,"color":"#e5322b00"},{"offset":0.3077,"color":"#e5322b"},{"offset":0.3462,"color":"#e5322b00"},{"offset":0.3846,"color":"#e5322b"},{"offset":0.4231,"color":"#e5322b00"},{"offset":0.4615,"color":"#e5322b"},{"offset":0.5,"color":"#e5322b00"},
            {"offset":0.5385,"color":"#e5322b"},{"offset":0.5769,"color":"#e5322b00"},{"offset":0.6154,"color":"#e5322b"},{"offset":0.6538,"color":"#e5322b00"},{"offset":0.6923,"color":"#e5322b"},{"offset":0.7308,"color":"#e5322b00"},{"offset":0.7692,"color":"#e5322b"},{"offset":0.8077,"color":"#e5322b00"},{"offset":0.8462,"color":"#e5322b"},{"offset":0.8846,"color":"#e5322b00"},{"offset":0.9231,"color":"#e5322b"},{"offset":0.9615,"color":"#e5322b00"},{"offset":1,"color":"#e5322b"}
          ]}}
        },
        {
          "mark": {"type": "rect", "fillOpacity": 0, "strokeWidth": 2},
          "encoding": {
            "stroke": {"field": "series", "type": "nominal", "legend": null,
                       "scale": {"domain": ["OrigEmb", "Attributes", "NaiveCombine", "Points_ind", "Points", "Points*"], "range": ["#111111", "#c94fbf", "#3a9fa0", "#5361b3", "#e5322b", "#7cc520"]}}
          }
        },
        {
          "mark": {"type": "text", "font": "Liberation Serif", "align": "left", "baseline": "middle", "dx": 11, "fontSize": 20, "color": "#231f20"},
          "encoding": {"x": {"field": "col", "type": "ordinal", "bandPosition": 1}, "text": {"field": "label"}}
        },
        {
          "transform": [{"filter": "datum.sub !== ''"}],
          "mark": {"type": "text", "font": "Liberation Serif", "align": "left", "baseline": "middle", "dx": 62, "dy": 6, "fontSize": 15, "color": "#231f20"},
          "encoding": {"x": {"field": "col", "type": "ordinal", "bandPosition": 1}, "text": {"field": "sub"}}
        }
      ]
    }
  ]
}
